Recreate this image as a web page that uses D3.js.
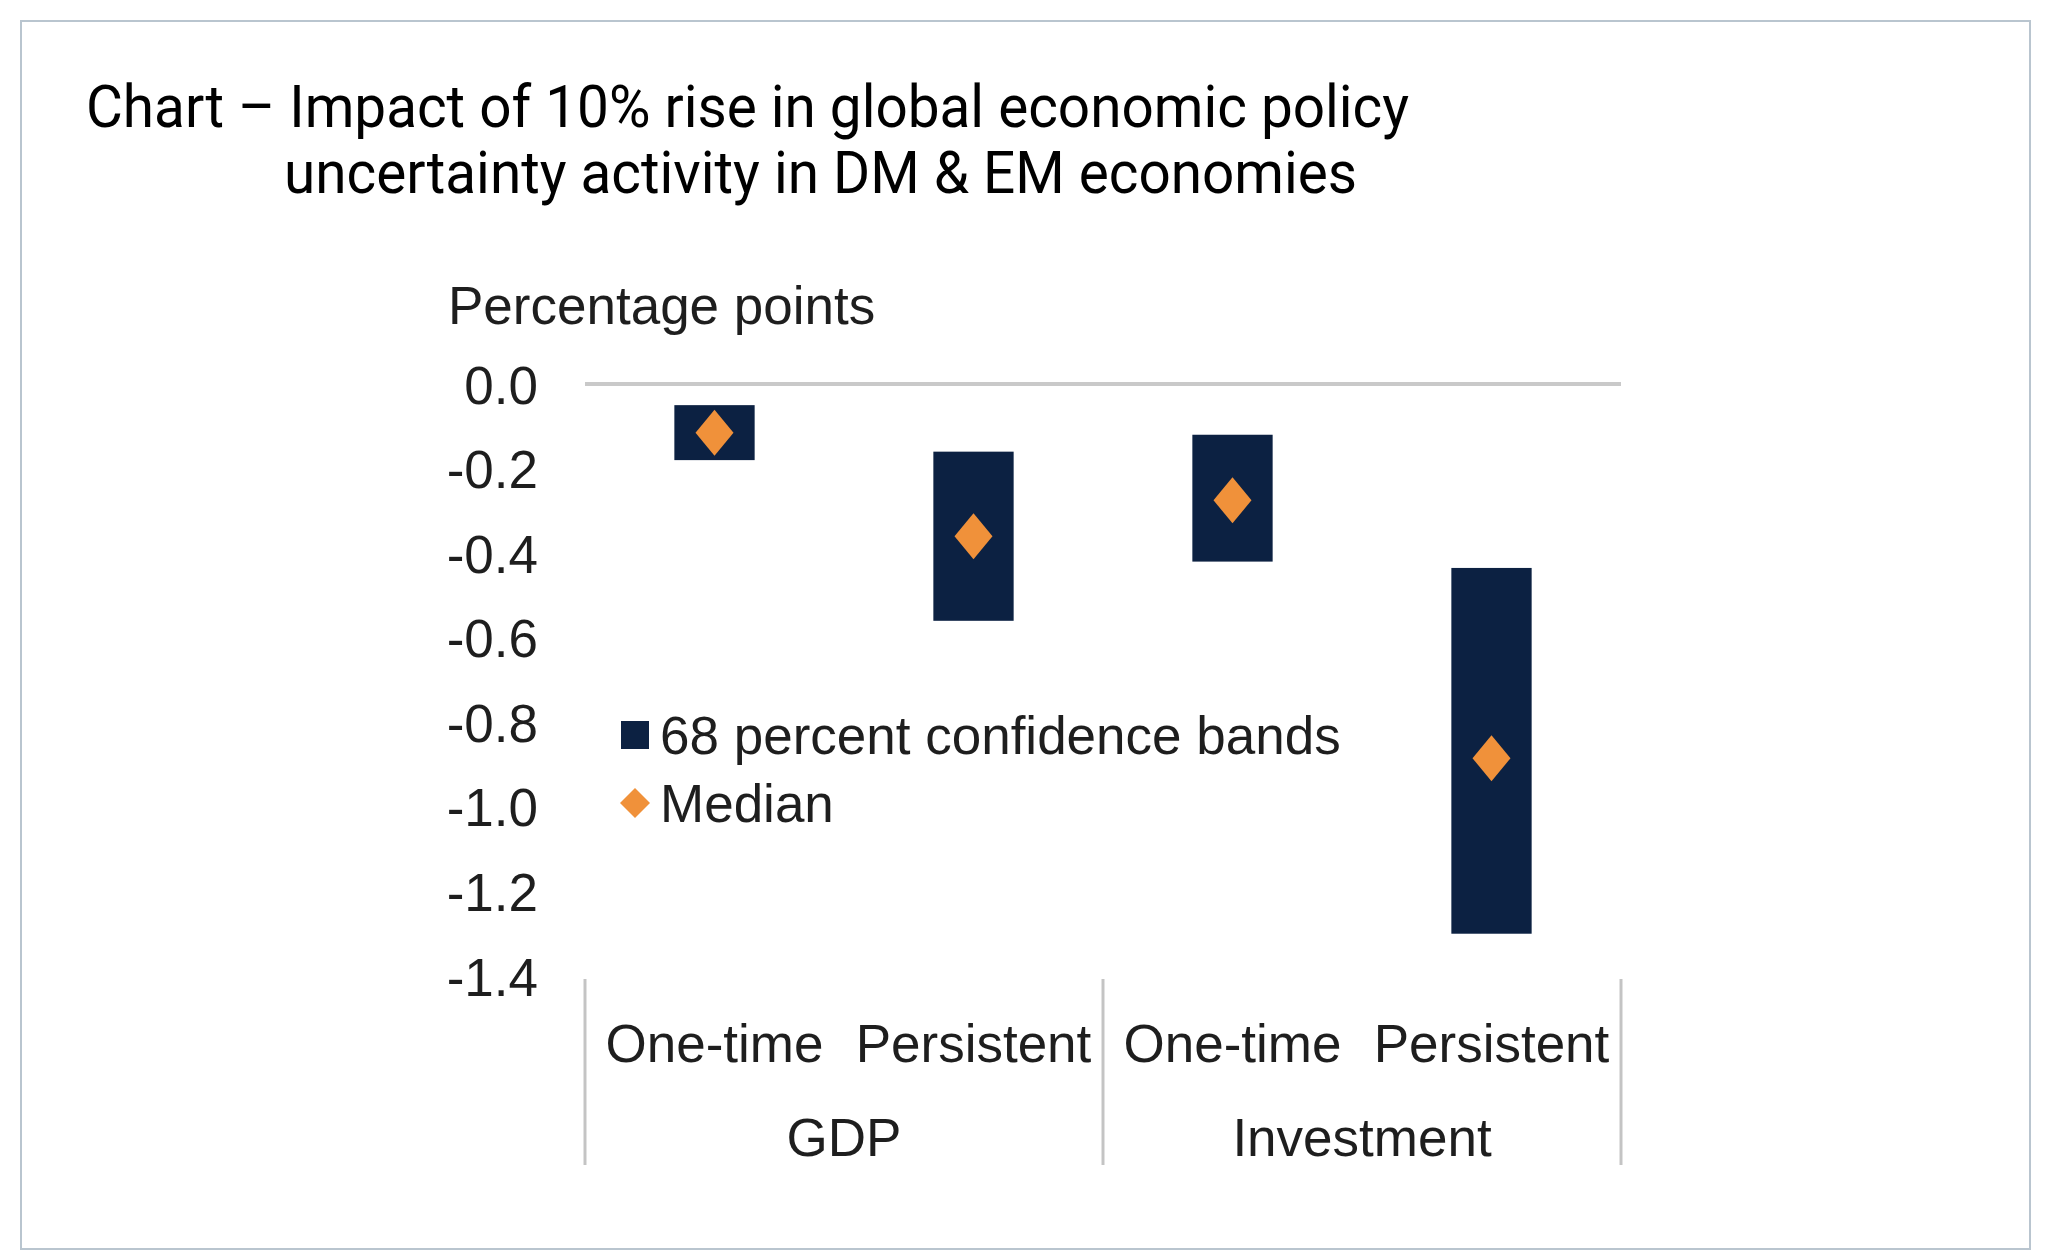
<!DOCTYPE html>
<html>
<head>
<meta charset="utf-8">
<script src="https://cdn.jsdelivr.net/npm/d3@7"></script>
<style>
  html, body { margin: 0; padding: 0; background: #ffffff; }
  svg { display: block; }
</style>
</head>
<body>
<svg id="chart" width="2046" height="1260"></svg>
<script>
// ---- data ----
const titleLines = ["Chart \u2013 Impact of 10% rise in global economic policy",
                    "uncertainty activity in DM & EM economies"];
const yAxisTitle = "Percentage points";
const categories = ["One-time", "Persistent", "One-time", "Persistent"];
const groups = ["GDP", "Investment"];
const bandHigh = [-0.05, -0.16, -0.12, -0.435];
const bandLow = [-0.18, -0.56, -0.42, -1.30];
const medians = [-0.115, -0.36, -0.275, -0.885];
const yTicks = [0, -0.2, -0.4, -0.6, -0.8, -1.0, -1.2, -1.4];
const legendLabels = ["68 percent confidence bands", "Median"];

// ---- setup ----
const svg = d3.select("#chart");
const navy = "#0c2142";
const orange = "#f0913a";
const textCol = "#1e1e1e";
const chartFont = "'Liberation Sans', Arial, sans-serif";

// frame
svg.append("rect")
  .attr("x", 21).attr("y", 21).attr("width", 2009).attr("height", 1228)
  .attr("fill", "#ffffff").attr("stroke", "#b9c5cf").attr("stroke-width", 2);

// title
const titleX = [86, 284], titleY = [127, 193], titleW = [1323, 1073];
titleLines.forEach((t, i) => {
  svg.append("text")
    .attr("x", titleX[i]).attr("y", titleY[i])
    .attr("font-family", "Roboto, sans-serif")
    .attr("font-size", 60)
    .attr("fill", "#000")
    .attr("textLength", titleW[i])
    .attr("lengthAdjust", "spacingAndGlyphs")
    .text(t);
});

// scales
const x = d3.scaleBand().domain(d3.range(categories.length)).range([585, 1621]).padding(0);
const y = d3.scaleLinear().domain([-1.4, 0]).range([976, 384]);
const barW = x.bandwidth() * 0.31;

// y-axis
const yAxis = d3.axisLeft(y).tickValues(yTicks).tickSize(0).tickPadding(0)
  .tickFormat(d => d3.format(".1f")(d).replace("\u2212", "-"));
const gy = svg.append("g").attr("transform", "translate(538,0)").call(yAxis);
gy.select(".domain").remove();
gy.selectAll("text")
  .attr("font-family", chartFont).attr("font-size", 53).attr("fill", textCol)
  .attr("dy", "0.36em");

// axis title
svg.append("text")
  .attr("x", 448).attr("y", 324)
  .attr("font-family", chartFont).attr("font-size", 53).attr("fill", textCol)
  .text(yAxisTitle);

// zero line
svg.append("line")
  .attr("x1", x.range()[0]).attr("x2", x.range()[1])
  .attr("y1", y(0)).attr("y2", y(0))
  .attr("stroke", "#c9c9c9").attr("stroke-width", 4);

// bands
svg.append("g").selectAll("rect").data(categories).join("rect")
  .attr("x", (d, i) => x(i) + x.bandwidth() / 2 - barW / 2)
  .attr("width", barW)
  .attr("y", (d, i) => y(bandHigh[i]))
  .attr("height", (d, i) => y(bandLow[i]) - y(bandHigh[i]))
  .attr("fill", navy);

// medians
const diamond = (hw, hh) => `M0,${-hh}L${hw},0L0,${hh}L${-hw},0Z`;
svg.append("g").selectAll("path").data(medians).join("path")
  .attr("transform", (d, i) => `translate(${x(i) + x.bandwidth() / 2},${y(d)})`)
  .attr("d", diamond(19, 23))
  .attr("fill", orange);

// x category labels
svg.append("g").selectAll("text").data(categories).join("text")
  .attr("x", (d, i) => x(i) + x.bandwidth() / 2)
  .attr("y", 1062)
  .attr("text-anchor", "middle")
  .attr("font-family", chartFont).attr("font-size", 53).attr("fill", textCol)
  .text(d => d);

// group labels
svg.append("g").selectAll("text").data(groups).join("text")
  .attr("x", (d, i) => (x(i * 2) + x(i * 2 + 1) + x.bandwidth()) / 2)
  .attr("y", 1156)
  .attr("text-anchor", "middle")
  .attr("font-family", chartFont).attr("font-size", 53).attr("fill", textCol)
  .text(d => d);

// separators
const sepX = [x(0), x(2), x(3) + x.bandwidth()];
svg.append("g").selectAll("line").data(sepX).join("line")
  .attr("x1", d => d).attr("x2", d => d)
  .attr("y1", 979).attr("y2", 1165)
  .attr("stroke", "#c4c4c4").attr("stroke-width", 3);

// legend
const lg = svg.append("g");
lg.append("rect").attr("x", 621).attr("y", 721).attr("width", 28).attr("height", 28).attr("fill", navy);
lg.append("path").attr("transform", "translate(635,803)").attr("d", diamond(15, 15)).attr("fill", orange);
lg.selectAll("text").data(legendLabels).join("text")
  .attr("x", 660)
  .attr("y", (d, i) => [735, 803][i])
  .attr("dy", "0.36em")
  .attr("font-family", chartFont).attr("font-size", 53).attr("fill", textCol)
  .text(d => d);
</script>
</body>
</html>
